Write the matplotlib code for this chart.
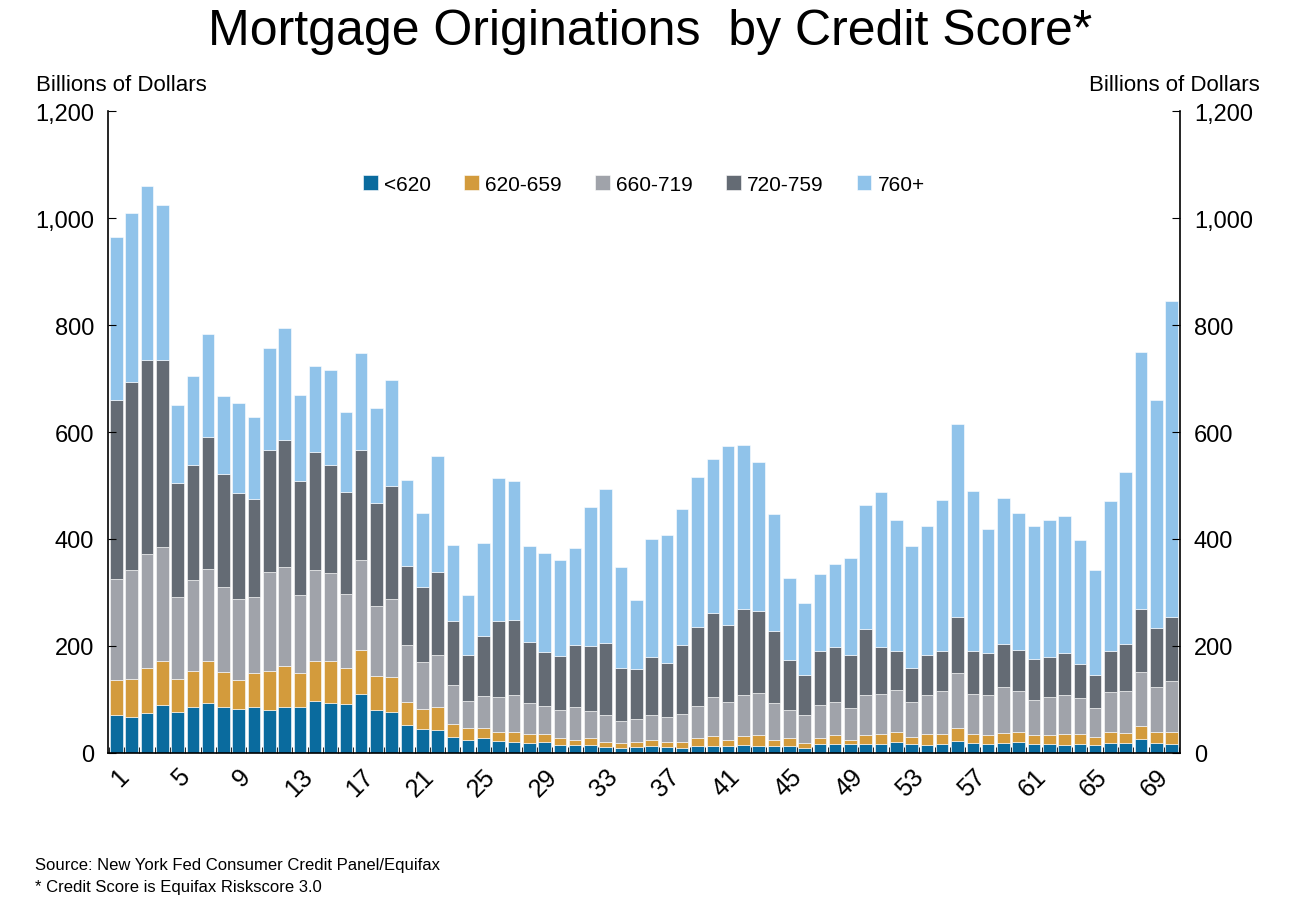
import numpy as np
import matplotlib
matplotlib.use("Agg")
import matplotlib.pyplot as plt

periods = list(range(1, 71))
series = ["<620", "620-659", "660-719", "720-759", "760+"]
# cumulative tops of each band (Billions of Dollars)
blue_top = [70,68,75,89,77,86,93,86,83,86,81,86,86,98,93,91,111,81,77,52,44,42,
            30,24,27,22,21,18,20,14,15,15,12,10,11,13,11,9,13,13,13,15,13,13,13,9,
            16,16,16,16,16,21,16,14,16,23,19,16,19,21,16,16,14,16,14,19,19,26,19,16]
orange_top = [137,139,158,172,139,154,171,152,137,149,154,163,149,171,171,159,192,144,142,96,83,86,
              55,46,46,39,39,36,36,28,25,28,20,19,20,24,20,20,28,31,25,31,34,25,28,19,
              28,33,25,33,36,40,30,36,36,46,36,33,38,40,33,33,36,36,30,40,38,51,40,40]
gray_top = [326,342,372,385,291,323,344,311,288,291,339,347,296,342,336,298,360,275,288,201,170,183,
            127,98,106,104,109,93,88,80,85,78,71,60,63,71,68,73,88,104,96,109,112,93,80,71,
            89,95,84,108,110,118,95,108,115,149,110,108,123,115,99,104,108,103,84,113,115,151,123,134]
dark_top = [660,693,734,734,504,539,590,521,486,475,567,585,508,563,539,488,567,468,500,350,311,339,
            247,183,218,247,249,208,189,181,202,200,205,158,156,179,168,202,236,262,239,270,265,228,174,146,
            190,198,183,231,198,190,159,183,190,254,190,187,203,192,175,179,187,167,146,190,203,270,234,254]
total_top = [965,1009,1060,1024,651,705,783,667,654,628,757,795,670,724,716,637,747,644,698,511,449,555,
             389,296,392,514,509,386,374,361,384,459,493,348,285,400,407,456,516,550,573,576,544,446,327,280,
             334,353,365,463,487,435,386,424,473,615,489,419,476,448,424,435,443,398,342,471,525,750,659,845]
xtick_labels = [str(i) for i in range(1, 71, 4)]

colors = ["#0a6b9e", "#d39b3c", "#a0a3aa", "#646b74", "#90c3ea"]
plt.rcParams["font.family"] = "Liberation Sans"

fig = plt.figure(figsize=(13.01, 9.04), dpi=100)
ax = fig.add_axes([0.083, 0.166, 0.824, 0.710])
x = np.array(periods)
tops = [np.array(blue_top), np.array(orange_top), np.array(gray_top), np.array(dark_top), np.array(total_top)]
bottom = np.zeros(len(periods))
for name, top, c in zip(series, tops, colors):
    ax.bar(x, top - bottom, bottom=bottom, width=0.82, color=c, label=name,
           edgecolor="white", linewidth=0.4)
    bottom = top

ax.set_xlim(0.45, 70.55)
ax.set_ylim(0, 1200)
ax.set_yticks(range(0, 1201, 200))
ax.set_yticklabels([f"{v:,}" for v in range(0, 1201, 200)], fontsize=17)
ax.tick_params(axis="y", direction="in", length=6, labelright=True, right=True, pad=10)
ax.set_xticks(range(1, 71, 4))
ax.set_xticklabels(xtick_labels, rotation=45, fontsize=18, ha="right", rotation_mode="anchor")
ax.set_xticks(np.arange(0.5, 71, 1), minor=True)
ax.tick_params(axis="x", which="major", length=0, pad=8)
ax.tick_params(axis="x", which="minor", direction="in", length=4)
ax.spines["top"].set_visible(False)
for s in ["left", "right", "bottom"]:
    ax.spines[s].set_linewidth(1.2)

ax.legend(loc="upper center", bbox_to_anchor=(0.5, 0.93), ncol=5, frameon=False,
          fontsize=15, handlelength=0.7, handleheight=0.7, columnspacing=1.6, handletextpad=0.3)

fig.text(0.5, 0.965, "Mortgage Originations  by Credit Score*", ha="center", va="center", fontsize=36)
fig.text(0.028, 0.905, "Billions of Dollars", fontsize=16, va="center")
fig.text(0.968, 0.905, "Billions of Dollars", fontsize=16, va="center", ha="right")
fig.text(0.027, 0.043, "Source: New York Fed Consumer Credit Panel/Equifax", fontsize=12, va="center")
fig.text(0.027, 0.018, "* Credit Score is Equifax Riskscore 3.0", fontsize=12, va="center")

fig.savefig("out.png", dpi=100)
